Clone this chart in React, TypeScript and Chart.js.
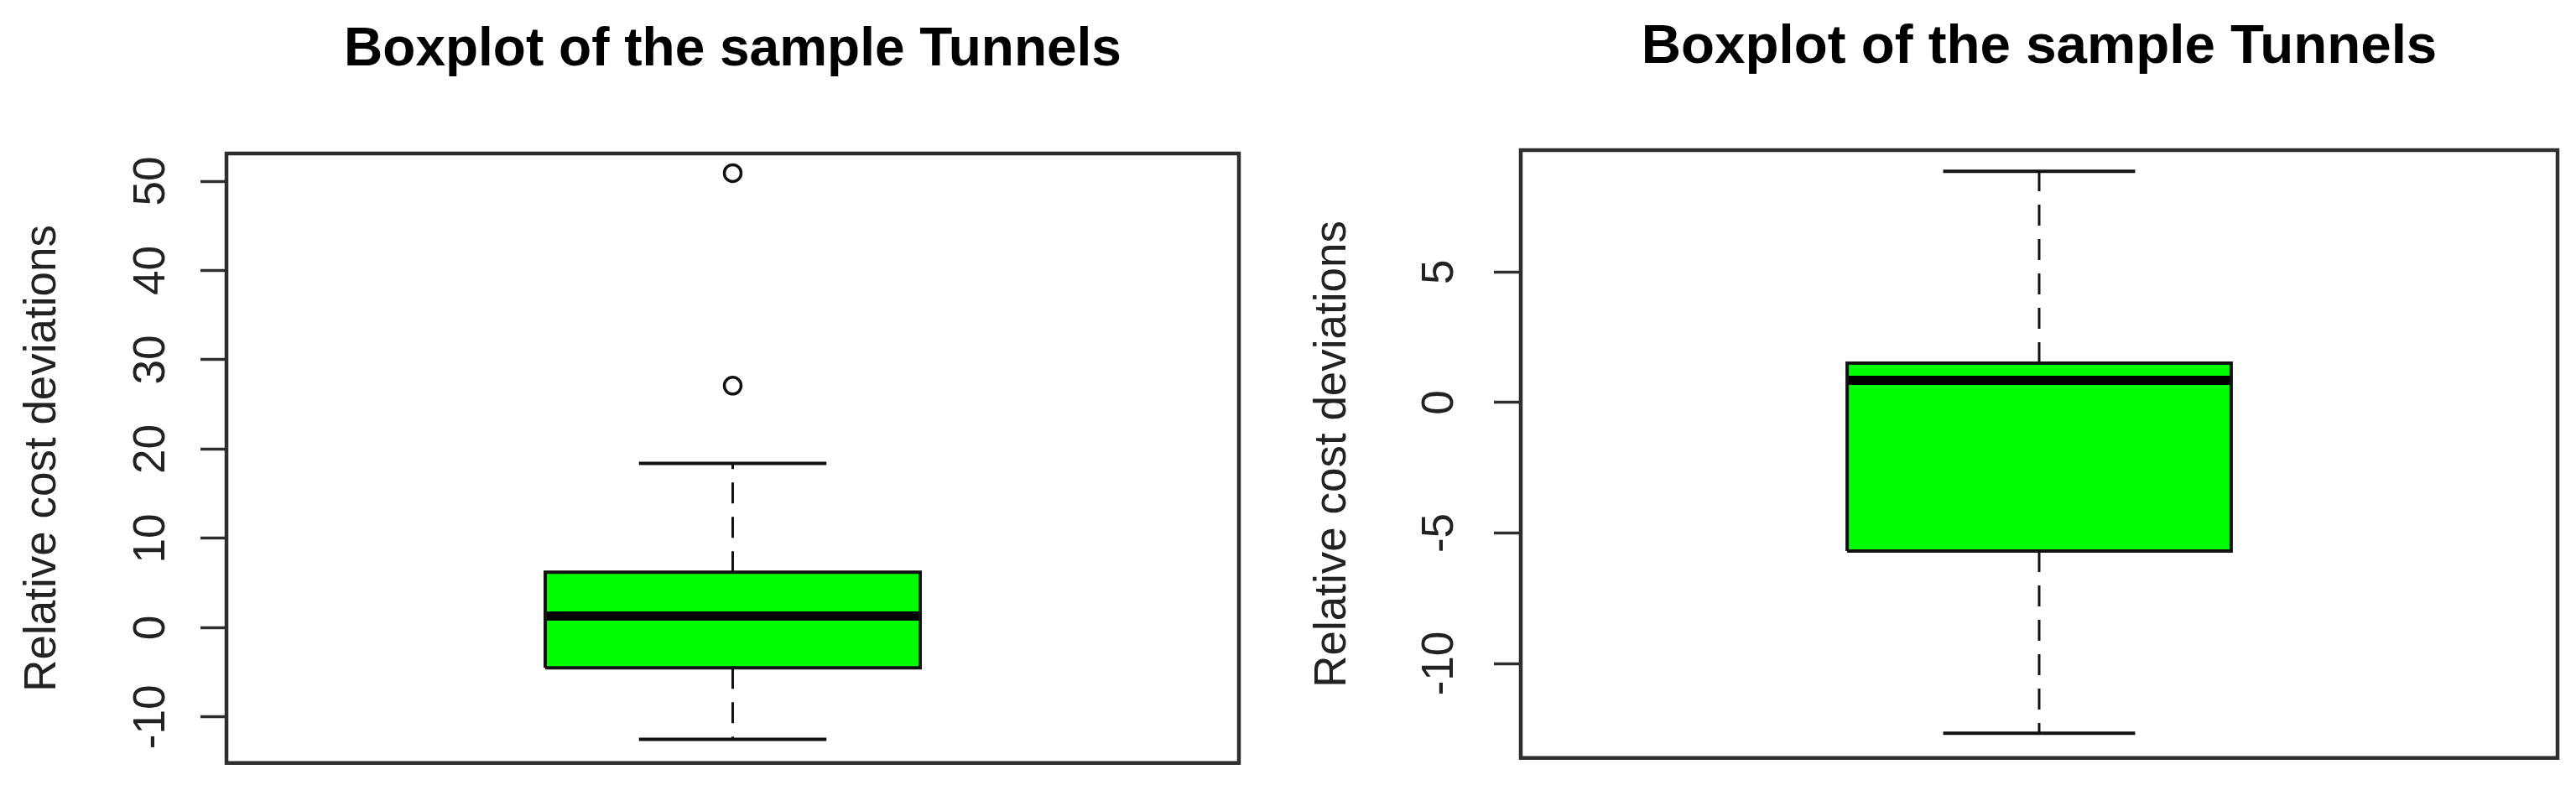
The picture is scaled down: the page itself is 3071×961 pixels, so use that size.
import React, { useEffect, useRef } from "react";
import { Chart, registerables } from "chart.js";

Chart.register(...registerables);

// ---------------- data ----------------
const TITLE = "Boxplot of the sample Tunnels";
const Y_LABEL = "Relative cost deviations";

// [lower whisker, Q1, median, Q3, upper whisker]
const leftStats = [-12.5, -4.5, 1.3, 6.2, 18.4];
const leftOutliers = [27.1, 50.9];
const leftTicks = [-10, 0, 10, 20, 30, 40, 50];
const leftRange = [-15.15, 53.1];

const rightStats = [-12.67, -5.69, 0.85, 1.51, 8.86];
const rightOutliers: number[] = [];
const rightTicks = [-10, -5, 0, 5];
const rightRange = [-13.62, 9.67];

// ---------------- layout / style ----------------
const FONT = "'Liberation Sans', Arial, Helvetica, sans-serif";
const GREEN = "#00ff00";
const X_CENTER = 1;
const BOX_HALF = 0.2;
const CAP_HALF = 0.1;
const X_RANGE = [0.46, 1.54];
const H = 961;

type PanelCfg = {
  canvasLeft: number;
  width: number;
  pad: { left: number; right: number; top: number; bottom: number };
  yWidth: number;
  titleSize: number;
  titlePad: { top: number; bottom: number };
  yTitlePad: number;
  tickPad: number;
  tickLen: number;
  stats: number[];
  outliers: number[];
  ticks: number[];
  range: number[];
};

const panels: PanelCfg[] = [
  {
    canvasLeft: 0,
    width: 1536,
    pad: { left: 0, right: 59, top: 0, bottom: 38 },
    yWidth: 270,
    titleSize: 64,
    titlePad: { top: 21.6, bottom: 84.6 },
    yTitlePad: 19.2,
    tickPad: 19.5,
    tickLen: 31,
    stats: leftStats,
    outliers: leftOutliers,
    ticks: leftTicks,
    range: leftRange,
  },
  {
    canvasLeft: 1536,
    width: 1535,
    pad: { left: 0, right: 22, top: 0, bottom: 25 },
    yWidth: 277,
    titleSize: 65.5,
    titlePad: { top: 17.7, bottom: 82.7 },
    yTitlePad: 21.7,
    tickPad: 25.5,
    tickLen: 32,
    stats: rightStats,
    outliers: rightOutliers,
    ticks: rightTicks,
    range: rightRange,
  },
];

const framePlugin = {
  id: "frame",
  afterDatasetsDraw(chart: any) {
    const { ctx, chartArea: a } = chart;
    ctx.save();
    ctx.strokeStyle = "#2e2e2e";
    ctx.lineWidth = 4.5;
    ctx.strokeRect(a.left, a.top, a.right - a.left, a.bottom - a.top);
    ctx.restore();
  },
};

function lineDs(points: { x: number; y: number }[], extra: any = {}) {
  return {
    type: "line",
    data: points,
    borderColor: "#111111",
    borderWidth: 3.5,
    pointRadius: 0,
    pointHoverRadius: 0,
    tension: 0,
    fill: false,
    borderCapStyle: "butt",
    ...extra,
  };
}

function buildConfig(cfg: PanelCfg): any {
  const [lo, q1, med, q3, hi] = cfg.stats;
  const xl = X_CENTER - BOX_HALF;
  const xr = X_CENTER + BOX_HALF;
  const cl = X_CENTER - CAP_HALF;
  const cr = X_CENTER + CAP_HALF;
  const datasets: any[] = [
    lineDs([{ x: xl, y: q3 }, { x: xr, y: q3 }], {
      borderColor: "rgba(0,0,0,0)",
      backgroundColor: GREEN,
      fill: "+1",
    }),
    lineDs([{ x: xl, y: q1 }, { x: xr, y: q1 }], { borderColor: "rgba(0,0,0,0)" }),
    lineDs(
      [
        { x: xl, y: q1 },
        { x: xl, y: q3 },
        { x: xr, y: q3 },
        { x: xr, y: q1 },
        { x: xl, y: q1 },
      ],
      { borderWidth: 4, borderJoinStyle: "miter" }
    ),
    lineDs([{ x: xl, y: med }, { x: xr, y: med }], { borderWidth: 11, borderColor: "#000000" }),
    lineDs([{ x: X_CENTER, y: q3 }, { x: X_CENTER, y: hi }], { borderDash: [25, 16], borderWidth: 3 }),
    lineDs([{ x: X_CENTER, y: q1 }, { x: X_CENTER, y: lo }], { borderDash: [25, 16], borderWidth: 3 }),
    lineDs([{ x: cl, y: hi }, { x: cr, y: hi }], { borderWidth: 4 }),
    lineDs([{ x: cl, y: lo }, { x: cr, y: lo }], { borderWidth: 4 }),
    {
      type: "line",
      data: cfg.outliers.map((v) => ({ x: X_CENTER, y: v })),
      showLine: false,
      pointStyle: "circle",
      pointRadius: 10,
      pointHoverRadius: 10,
      pointBorderWidth: 3.5,
      pointBorderColor: "#111111",
      pointBackgroundColor: "rgba(0,0,0,0)",
    },
  ];

  return {
    type: "line",
    data: { datasets },
    plugins: [framePlugin],
    options: {
      responsive: false,
      animation: false,
      devicePixelRatio: 1,
      events: [],
      layout: { padding: cfg.pad },
      plugins: {
        legend: { display: false },
        tooltip: { enabled: false },
        filler: { drawTime: "beforeDatasetsDraw" },
        title: {
          display: true,
          text: TITLE,
          fullSize: false,
          color: "#000000",
          font: { family: FONT, size: cfg.titleSize, weight: "bold", lineHeight: 1.2 },
          padding: cfg.titlePad,
        },
      },
      scales: {
        x: {
          type: "linear",
          display: false,
          min: X_RANGE[0],
          max: X_RANGE[1],
        },
        y: {
          type: "linear",
          position: "left",
          min: cfg.range[0],
          max: cfg.range[1],
          afterFit: (scale: any) => {
            scale.width = cfg.yWidth;
          },
          afterBuildTicks: (scale: any) => {
            scale.ticks = cfg.ticks.map((v) => ({ value: v }));
          },
          border: { display: false },
          grid: {
            display: true,
            drawOnChartArea: false,
            drawTicks: true,
            tickLength: cfg.tickLen,
            tickWidth: 3.5,
            tickColor: "#2e2e2e",
          },
          ticks: {
            autoSkip: false,
            minRotation: 90,
            maxRotation: 90,
            crossAlign: "center",
            padding: cfg.tickPad,
            color: "#222222",
            font: { family: FONT, size: 53 },
            callback: (v: any) => String(v),
          },
          title: {
            display: true,
            text: Y_LABEL,
            color: "#222222",
            font: { family: FONT, size: 53, lineHeight: 1.2 },
            padding: { top: cfg.yTitlePad, bottom: 0 },
          },
        },
      },
    },
  };
}

function Panel({ cfg }: { cfg: PanelCfg }) {
  const ref = useRef<HTMLCanvasElement>(null);
  useEffect(() => {
    if (!ref.current) return;
    const chart = new Chart(ref.current, buildConfig(cfg));
    return () => chart.destroy();
  }, [cfg]);
  return (
    <canvas
      ref={ref}
      width={cfg.width}
      height={H}
      style={{ position: "absolute", left: cfg.canvasLeft, top: 0, width: cfg.width, height: H }}
    />
  );
}

export default function App() {
  return (
    <div
      style={{
        position: "absolute",
        left: 0,
        top: 0,
        width: 3071,
        height: H,
        background: "#ffffff",
        overflow: "hidden",
      }}
    >
      {panels.map((p, i) => (
        <Panel key={i} cfg={p} />
      ))}
    </div>
  );
}
